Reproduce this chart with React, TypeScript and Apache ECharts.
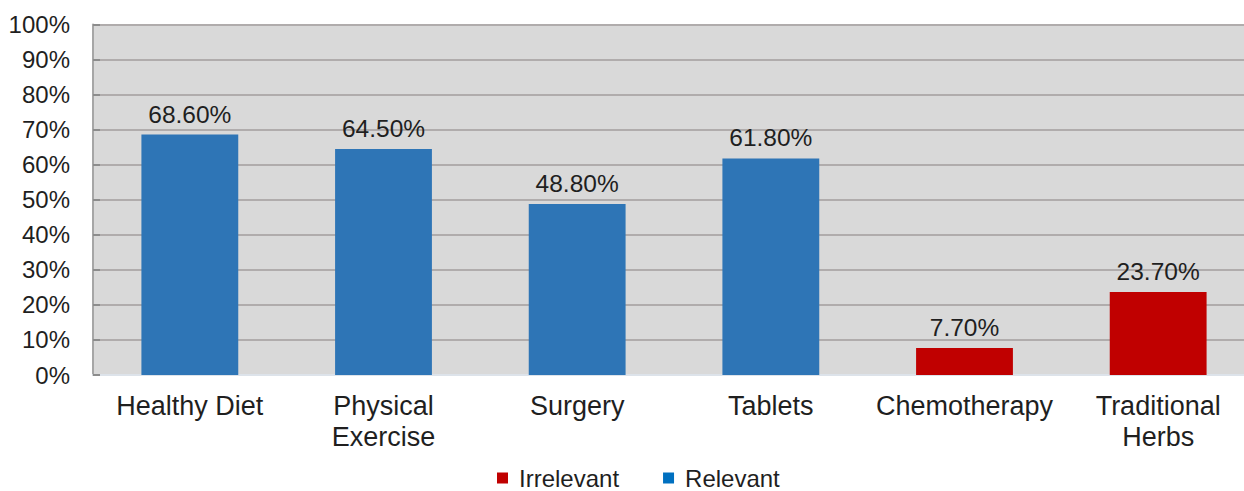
import React, { useEffect, useRef } from "react";
import * as echarts from "echarts";

// Categories and percentages
const categories = [
  "Healthy Diet",
  "Physical\nExercise",
  "Surgery",
  "Tablets",
  "Chemotherapy",
  "Traditional\nHerbs",
];
const relevantValues: (number | null)[] = [68.6, 64.5, 48.8, 61.8, null, null];
const irrelevantValues: (number | null)[] = [null, null, null, null, 7.7, 23.7];
const yTicks = { min: 0, max: 100, interval: 10 };

const FONT = "'Liberation Sans', Arial, sans-serif";
const TEXT = "#1f1f1f";

export default function App() {
  const ref = useRef<HTMLDivElement>(null);

  useEffect(() => {
    document.body.style.margin = "0";
    const chart = echarts.init(ref.current!, undefined, { renderer: "svg" });
    const label = {
      show: true,
      position: "top" as const,
      distance: 8,
      fontFamily: FONT,
      fontSize: 24.5,
      color: TEXT,
      formatter: (p: any) => `${Number(p.value).toFixed(2)}%`,
    };
    chart.setOption({
      animation: false,
      backgroundColor: "#ffffff",
      textStyle: { fontFamily: FONT },
      // the plot area runs slightly past the right edge of the visible frame
      grid: { left: 93, right: 0, top: 24.5, bottom: 116, show: true, backgroundColor: "#d9d9d9", borderWidth: 0 },
      legend: {
        left: 492,
        top: 461,
        itemWidth: 11,
        itemHeight: 11,
        itemGap: 44,
        icon: "rect",
        textStyle: { fontFamily: FONT, fontSize: 24, color: TEXT, padding: [0, 0, 0, 6] },
        data: [
          { name: "Irrelevant", itemStyle: { color: "#c00000" } },
          { name: "Relevant", itemStyle: { color: "#0070c0" } },
        ],
      },
      xAxis: {
        type: "category",
        data: categories,
        axisLine: { show: true, lineStyle: { color: "#dde3ea", width: 2 } },
        axisTick: { show: false },
        axisLabel: { fontFamily: FONT, fontSize: 27, color: TEXT, lineHeight: 31, margin: 15, interval: 0 },
      },
      yAxis: {
        type: "value",
        min: yTicks.min,
        max: yTicks.max,
        interval: yTicks.interval,
        axisLine: { show: true, lineStyle: { color: "#a6a6a6", width: 2 } },
        axisTick: { show: true, inside: true, length: 7, lineStyle: { color: "#8c8c8c", width: 2 } },
        splitLine: { show: true, lineStyle: { color: "#b0acac", width: 2 } },
        axisLabel: { fontFamily: FONT, fontSize: 24, color: TEXT, margin: 23, formatter: "{value}%" },
      },
      series: [
        {
          name: "Irrelevant",
          type: "bar",
          stack: "all",
          barWidth: "50%",
          data: irrelevantValues,
          itemStyle: { color: "#c00000" },
          label,
        },
        {
          name: "Relevant",
          type: "bar",
          stack: "all",
          barWidth: "50%",
          data: relevantValues,
          itemStyle: { color: "#2e75b6" },
          label,
        },
      ],
    });
    return () => chart.dispose();
  }, []);

  return (
    <div style={{ width: 1244, height: 491, overflow: "hidden", position: "relative" }}>
      <div ref={ref} style={{ width: 1255, height: 491 }} />
    </div>
  );
}
